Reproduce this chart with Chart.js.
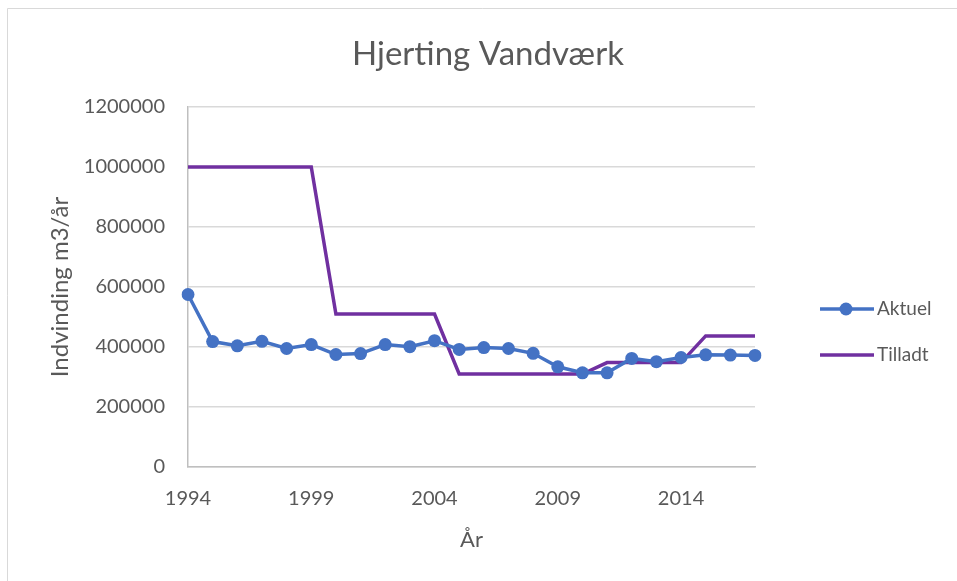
<!DOCTYPE html>
<html>
<head>
<meta charset="utf-8">
<script src="https://cdn.jsdelivr.net/npm/chart.js@4/dist/chart.umd.min.js"></script>
<style>
  html, body { margin: 0; padding: 0; background: #fff; }
  #wrap { width: 957px; height: 581px; position: relative; }
</style>
</head>
<body>
<div id="wrap"><canvas id="chart" width="957" height="581"></canvas></div>
<script>
// data
const years = ['1994','1995','1996','1997','1998','1999','2000','2001','2002','2003','2004','2005',
               '2006','2007','2008','2009','2010','2011','2012','2013','2014','2015','2016','2017'];
const aktuel = [575000, 418000, 404000, 419000, 395000, 408000, 375000, 378000, 408000, 401000, 421000, 392000,
                398000, 395000, 379000, 334000, 314000, 314000, 362000, 351000, 365000, 374000, 373000, 372000];
const tilladt = [1000000, 1000000, 1000000, 1000000, 1000000, 1000000, 510000, 510000, 510000, 510000, 510000, 310000,
                 310000, 310000, 310000, 310000, 310000, 348000, 348000, 348000, 348000, 437000, 437000, 437000];
const yTicks = [0, 200000, 400000, 600000, 800000, 1000000, 1200000];

const blue = '#4472C4';
const purple = '#7030A0';
const textGray = '#595959';
const fontFam = 'Lato, "Open Sans", sans-serif';

// border, title and legend
const decor = {
    id: 'decor',
    beforeDraw(chart) {
        const ctx = chart.ctx;
        ctx.save();
        ctx.fillStyle = '#fff';
        ctx.fillRect(0, 0, chart.width, chart.height);
        ctx.strokeStyle = '#d9d9d9';
        ctx.lineWidth = 1;
        ctx.beginPath();
        ctx.moveTo(7.5, 600);
        ctx.lineTo(7.5, 8.5);
        ctx.lineTo(960, 8.5);
        ctx.stroke();
        ctx.restore();
    },
    afterDraw(chart) {
        const ctx = chart.ctx;
        ctx.save();
        ctx.fillStyle = textGray;
        ctx.font = '33px ' + fontFam;
        ctx.textAlign = 'center';
        ctx.textBaseline = 'alphabetic';
        ctx.fillText('Hjerting Vandværk', 488, 65);

        // legend
        ctx.lineWidth = 3.5;
        ctx.strokeStyle = blue;
        ctx.beginPath();
        ctx.moveTo(820, 309);
        ctx.lineTo(874, 309);
        ctx.stroke();
        ctx.fillStyle = blue;
        ctx.beginPath();
        ctx.arc(846, 309, 6.5, 0, Math.PI * 2);
        ctx.fill();
        ctx.strokeStyle = purple;
        ctx.beginPath();
        ctx.moveTo(820, 355);
        ctx.lineTo(874, 355);
        ctx.stroke();
        ctx.fillStyle = textGray;
        ctx.font = '19px ' + fontFam;
        ctx.textAlign = 'left';
        ctx.textBaseline = 'middle';
        ctx.fillText('Aktuel', 877, 309);
        ctx.fillText('Tilladt', 877, 355);
        ctx.restore();
    }
};

new Chart(document.getElementById('chart'), {
    type: 'line',
    data: {
        labels: years,
        datasets: [{
            label: 'Aktuel',
            data: aktuel,
            borderColor: blue,
            backgroundColor: blue,
            borderWidth: 3.5,
            pointRadius: 6.5,
            pointHoverRadius: 6.5,
            pointBorderWidth: 0,
            tension: 0
        }, {
            label: 'Tilladt',
            data: tilladt,
            borderColor: purple,
            backgroundColor: purple,
            borderWidth: 3.5,
            pointRadius: 0,
            tension: 0
        }]
    },
    options: {
        responsive: false,
        animation: false,
        layout: { padding: { left: 0, top: 107, right: 202, bottom: 0 } },
        plugins: {
            legend: { display: false },
            tooltip: { enabled: false }
        },
        scales: {
            x: {
                type: 'category',
                offset: false,
                grid: { display: false, drawTicks: false },
                border: { display: true, color: '#bfbfbf', width: 1.5 },
                ticks: {
                    autoSkip: false,
                    maxRotation: 0,
                    padding: 20,
                    color: textGray,
                    font: { family: fontFam, size: 20 },
                    callback: function (v, i) { return i % 5 === 0 ? years[i] : ''; }
                },
                title: {
                    display: true,
                    text: 'År',
                    color: textGray,
                    font: { family: fontFam, size: 22 },
                    padding: { top: 0, bottom: 28 }
                },
                afterFit: function (s) { s.height = 581 - 467; }
            },
            y: {
                min: 0,
                max: 1200000,
                grid: { color: '#d9d9d9', lineWidth: 1.5, drawTicks: false },
                border: { display: true, color: '#bfbfbf', width: 1.5 },
                afterBuildTicks: function (s) { s.ticks = yTicks.map(v => ({ value: v })); },
                ticks: {
                    padding: 23,
                    color: textGray,
                    font: { family: fontFam, size: 20 },
                    callback: function (v) { return String(v); }
                },
                title: {
                    display: true,
                    text: 'Indvinding m3/år',
                    color: textGray,
                    font: { family: fontFam, size: 24 },
                    padding: { top: 46, bottom: 0 }
                },
                afterFit: function (s) { s.width = 188; }
            }
        }
    },
    plugins: [decor]
});
</script>
</body>
</html>
